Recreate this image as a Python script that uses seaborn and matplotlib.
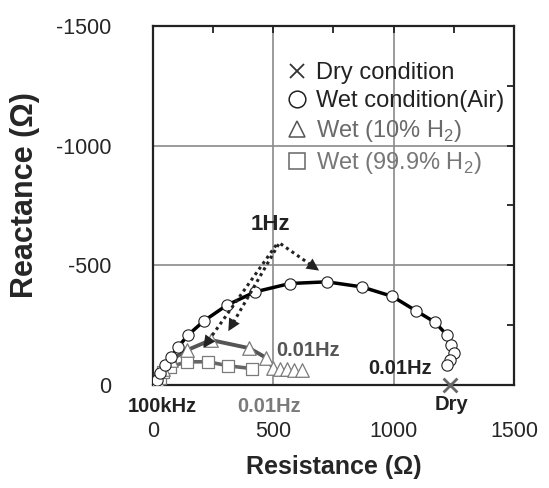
import matplotlib
matplotlib.use('Agg')
import matplotlib.pyplot as plt
from matplotlib.lines import Line2D
import seaborn as sns
import numpy as np
import pandas as pd

# Nyquist data (resistance, reactance in ohm)
circ_r = [15, 30, 50, 75, 105, 147, 212, 306, 424, 569, 722, 867, 995, 1093, 1172, 1220, 1240, 1250, 1236, 1220]
circ_x = [-20, -50, -85, -115, -160, -210, -268, -333, -389, -424, -431, -410, -370, -310, -262, -210, -167, -133, -105, -83]

tri_r = [0, 15, 40, 75, 140, 240, 400, 470, 500, 528, 555, 584, 618]
tri_x = [0, -21, -65, -105, -145, -188, -154, -114, -70, -66, -65, -64, -63]

sq_r = [0, 8, 29, 43, 71, 140, 230, 313, 410]
sq_x = [0, -7, -28, -55, -76, -97, -97, -80, -69]

dry_r = [1235]
dry_x = [0]

legend_labels = ['Dry condition', 'Wet condition(Air)', 'Wet (10% H$_2$)', 'Wet (99.9% H$_2$)']
ticks = [0, 500, 1000, 1500]

sns.set_style("white")
plt.rcParams['font.family'] = ['Liberation Sans', 'DejaVu Sans']
plt.rcParams['axes.unicode_minus'] = False
plt.rcParams['mathtext.fontset'] = 'custom'
plt.rcParams['mathtext.rm'] = 'Liberation Sans'

circDf = pd.DataFrame({'r': circ_r, 'x': circ_x})
triDf = pd.DataFrame({'r': tri_r, 'x': tri_x})
sqDf = pd.DataFrame({'r': sq_r, 'x': sq_x})
dryDf = pd.DataFrame({'r': dry_r, 'x': dry_x})

fig = plt.figure(figsize=(5.49, 4.88), dpi=100)
ax = fig.add_axes([0.2787, 0.211, 0.6575, 0.736])

# grid
for v in [500, 1000]:
    ax.axvline(v, color='#8a8a8a', lw=1.2, zorder=0)
    ax.axhline(-v, color='#8a8a8a', lw=1.2, zorder=0)

# fitted lines
sns.lineplot(data=circDf.iloc[:16], x='r', y='x', sort=False, color='black', lw=2.5, ax=ax, zorder=2)
sns.lineplot(data=triDf.iloc[3:9], x='r', y='x', sort=False, color='#555555', lw=2.8, ax=ax, zorder=2)
sns.lineplot(data=sqDf.iloc[2:], x='r', y='x', sort=False, color='#666666', lw=2.6, ax=ax, zorder=2)

# markers
sns.scatterplot(data=sqDf, x='r', y='x', marker='s', s=70, facecolor='white', edgecolor='#7a7a7a', linewidth=0.9, ax=ax, zorder=3)
sns.scatterplot(data=triDf, x='r', y='x', marker='^', s=95, facecolor='white', edgecolor='#7a7a7a', linewidth=0.9, ax=ax, zorder=3)
sns.scatterplot(data=circDf, x='r', y='x', marker='o', s=66, facecolor='white', edgecolor='#222222', linewidth=0.8, ax=ax, zorder=4)
sns.scatterplot(data=dryDf, x='r', y='x', marker='x', s=100, color='#666666', linewidth=2, ax=ax, zorder=5, clip_on=False)

# 1 Hz arrows: dotted shaft + solid head
arrows = [((530, -590), (690, -478)), ((522, -588), (313, -225)), ((512, -585), (209, -155))]
for (x0, y0), (x1, y1) in arrows:
    ax.plot([x0, x1], [y0, y1], ls=(0, (1, 1.2)), lw=2.2, color='#222222', zorder=6)
    ax.annotate('', xy=(x1, y1), xytext=(x1 - 0.15 * (x1 - x0), y1 - 0.15 * (y1 - y0)),
                arrowprops=dict(arrowstyle='-|>', lw=0, color='#222222', mutation_scale=22,
                                shrinkA=0, shrinkB=0), zorder=7)

bold = dict(fontsize=14.5, fontweight='bold', ha='center', va='center')
ax.text(486, -672, '1Hz', color='#222222', fontsize=16, fontweight='bold', ha='center', va='center')
ax.text(645, -146, '0.01Hz', color='#555555', **bold)
ax.text(1026, -70, '0.01Hz', color='#222222', **bold)
ax.text(1240, 82, 'Dry', color='#222222', clip_on=False, **bold)
ax.text(40, 90, '100kHz', color='#222222', clip_on=False, **bold)
ax.text(482, 88, '0.01Hz', color='#7a7a7a', clip_on=False, **bold)

ax.set_xlim(0, 1500)
ax.set_ylim(0, -1500)
ax.set_xticks(ticks)
ax.set_yticks([-t for t in ticks])
ax.set_xticks(np.arange(250, 1500, 500), minor=True)
ax.set_yticks(-np.arange(250, 1500, 500), minor=True)
ax.tick_params(which='both', direction='in', top=True, right=True, length=5, width=1.3, color='#222222')
ax.tick_params(axis='x', which='major', labelsize=15.5, pad=26)
ax.tick_params(axis='y', which='major', labelsize=15.5, pad=30)
for sp in ax.spines.values():
    sp.set_color('#222222')
    sp.set_linewidth(1.6)

ax.set_xlabel('Resistance (Ω)', fontsize=18, fontweight='bold')
ax.set_ylabel('Reactance (Ω)', fontsize=22, fontweight='bold')
ax.xaxis.set_label_coords(0.5, -0.195)
ax.yaxis.set_label_coords(-0.313, 0.53)

handles = [
    Line2D([], [], ls='', marker='x', color='#333333', markersize=10, mew=1.3),
    Line2D([], [], ls='', marker='o', mfc='white', mec='#222222', markersize=12, mew=1.1),
    Line2D([], [], ls='', marker='^', mfc='white', mec='#555555', markersize=12, mew=1.1),
    Line2D([], [], ls='', marker='s', mfc='white', mec='#666666', markersize=11, mew=1.1),
]
leg = ax.legend(handles, legend_labels, loc='upper left', bbox_to_anchor=(0.367, 0.9),
                frameon=False, fontsize=17, handlelength=1.0, handletextpad=0.3,
                labelspacing=0.26, borderpad=0, borderaxespad=0)
for t, c in zip(leg.get_texts(), ['#222222', '#222222', '#6a6a6a', '#777777']):
    t.set_color(c)

fig.savefig('out.png', dpi=100)
